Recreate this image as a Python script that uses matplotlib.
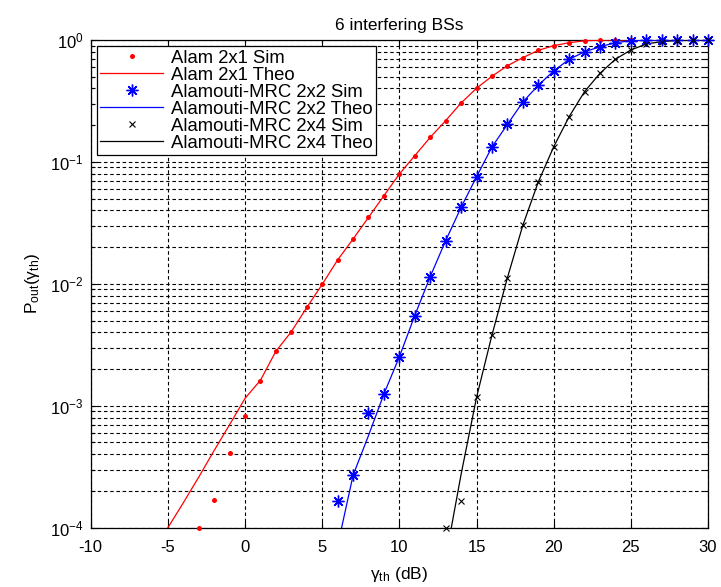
import matplotlib
matplotlib.use("Agg")
import matplotlib.pyplot as plt
from matplotlib.ticker import LogLocator, NullFormatter, NullLocator

plt.rcParams['font.family'] = ['Liberation Sans', 'DejaVu Sans']
plt.rcParams['mathtext.fontset'] = 'custom'
plt.rcParams['mathtext.rm'] = 'Liberation Sans'
plt.rcParams['mathtext.it'] = 'Liberation Sans:italic'
plt.rcParams['mathtext.default'] = 'regular'
plt.rcParams['axes.unicode_minus'] = False

title = "6 interfering BSs"

# Alamouti 2x1
x_sim_21 = [-3, -2, -1, 0, 1, 2, 3, 4, 5, 6, 7, 8, 9, 10, 11, 12, 13, 14, 15, 16, 17, 18, 19, 20,
            21, 22, 23, 24, 25, 26, 27, 28, 29, 30]
p_sim_21 = [1.0e-4, 1.68e-4, 4.07e-4, 8.2e-4, 1.6e-3, 2.83e-3, 4.05e-3, 6.4e-3, 9.9e-3, 1.57e-2,
            0.0233, 0.0351, 0.0528, 0.0796, 0.1125, 0.159, 0.218, 0.304, 0.402, 0.504, 0.615, 0.716,
            0.822, 0.898, 0.95, 0.985, 0.997, 1.0, 1.0, 1.0, 1.0, 1.0, 1.0, 1.0]
x_theo_21 = [-5, -4, -3, -2, -1, 0, 1, 2, 3, 4, 5, 6, 7, 8, 9, 10, 11, 12, 13, 14, 15, 16, 17, 18,
             19, 20, 21, 22, 23, 24, 25, 26, 27, 28, 29, 30]
p_theo_21 = [1.0e-4, 1.6e-4, 2.6e-4, 4.3e-4, 7.0e-4, 1.15e-3, 1.62e-3, 2.8e-3, 4.05e-3, 6.4e-3,
             9.9e-3, 1.57e-2, 0.0233, 0.0351, 0.0528, 0.0796, 0.1125, 0.159, 0.218, 0.304, 0.402,
             0.504, 0.615, 0.716, 0.822, 0.898, 0.95, 0.985, 0.997, 1.0, 1.0, 1.0, 1.0, 1.0, 1.0, 1.0]

# Alamouti-MRC 2x2
x_sim_22 = [6, 7, 8, 9, 10, 11, 12, 13, 14, 15, 16, 17, 18, 19, 20, 21, 22, 23, 24, 25, 26, 27,
            28, 29, 30]
p_sim_22 = [1.66e-4, 2.69e-4, 8.8e-4, 1.25e-3, 2.52e-3, 5.5e-3, 0.01146, 0.0226, 0.0424, 0.0755,
            0.1325, 0.203, 0.31, 0.425, 0.557, 0.694, 0.80, 0.88, 0.95, 0.985, 0.995, 1.0, 1.0,
            1.0, 1.0]
x_theo_22 = [6, 7, 8, 9, 10, 11, 12, 13, 14, 15, 16, 17, 18, 19, 20, 21, 22, 23, 24, 25, 26, 27,
             28, 29, 30]
p_theo_22 = [7.1e-5, 2.69e-4, 5.7e-4, 1.25e-3, 2.52e-3, 5.5e-3, 0.01146, 0.0226, 0.0424, 0.0755,
             0.1325, 0.203, 0.31, 0.425, 0.557, 0.694, 0.80, 0.88, 0.95, 0.985, 0.995, 1.0, 1.0,
             1.0, 1.0]

# Alamouti-MRC 2x4
x_sim_24 = [13, 14, 15, 16, 17, 18, 19, 20, 21, 22, 23, 24, 25, 26, 27, 28, 29, 30]
p_sim_24 = [1.0e-4, 1.65e-4, 1.17e-3, 3.8e-3, 0.0112, 0.0302, 0.0684, 0.133, 0.235, 0.377, 0.533,
            0.695, 0.828, 0.927, 0.97, 0.99, 1.0, 1.0]
x_theo_24 = [13, 14, 15, 16, 17, 18, 19, 20, 21, 22, 23, 24, 25, 26, 27, 28, 29, 30]
p_theo_24 = [5.6e-5, 2.74e-4, 1.17e-3, 3.8e-3, 0.0112, 0.0302, 0.0684, 0.133, 0.235, 0.377, 0.533,
             0.695, 0.828, 0.927, 0.97, 0.99, 1.0, 1.0]

labels = ["Alam 2x1 Sim", "Alam 2x1 Theo", "Alamouti-MRC 2x2 Sim", "Alamouti-MRC 2x2 Theo",
          "Alamouti-MRC 2x4 Sim", "Alamouti-MRC 2x4 Theo"]
x_ticks = [-10, -5, 0, 5, 10, 15, 20, 25, 30]

fig = plt.figure(figsize=(7.21, 5.87), dpi=100)
ax = fig.add_axes([0.1258, 0.101, 0.982 - 0.1258, 0.9319 - 0.101])

ax.plot(x_sim_21, p_sim_21, linestyle='none', marker='o', markersize=3.6, color='red',
        markeredgewidth=0, label=labels[0], clip_on=False, zorder=4)
ax.plot(x_theo_21, p_theo_21, '-', color='red', linewidth=0.9, label=labels[1], zorder=3)
ax.plot(x_sim_22, p_sim_22, linestyle='none', marker=(8, 2, 0), markersize=8.5, color='blue',
        markeredgewidth=1.0, label=labels[2], clip_on=False, zorder=4)
ax.plot(x_theo_22, p_theo_22, '-', color='blue', linewidth=0.9, label=labels[3], zorder=3)
ax.plot(x_sim_24, p_sim_24, linestyle='none', marker='x', markersize=5, color='black',
        markeredgewidth=0.8, label=labels[4], clip_on=False, zorder=4)
ax.plot(x_theo_24, p_theo_24, '-', color='black', linewidth=0.9, label=labels[5], zorder=3)

ax.set_yscale('log')
ax.set_xlim(-10, 30)
ax.set_ylim(1e-4, 1)
ax.set_xticks(x_ticks)
ax.xaxis.set_minor_locator(NullLocator())
ax.yaxis.set_major_locator(LogLocator(base=10, numticks=10))
ax.yaxis.set_minor_locator(LogLocator(base=10, subs=range(2, 10), numticks=20))
ax.yaxis.set_minor_formatter(NullFormatter())

dash = (0, (3.2, 2.4))
ax.grid(True, which='major', axis='both', color='black', linestyle=dash, linewidth=0.8)
ax.grid(True, which='minor', axis='y', color='black', linestyle=dash, linewidth=0.8)
ax.set_axisbelow(True)

ax.tick_params(which='both', direction='in', top=True, right=True, labelsize=12, width=0.8)
ax.tick_params(which='major', length=5)
ax.tick_params(axis='x', which='major', pad=9)
ax.tick_params(axis='y', which='major', pad=5)
ax.tick_params(which='minor', length=3)
for s in ax.spines.values():
    s.set_linewidth(0.9)
    s.set_color('black')

ax.set_title(title, fontsize=12.5, pad=7)
ax.set_xlabel(r'$\gamma_{th}$ (dB)', fontsize=12.5, labelpad=7)
ax.set_ylabel(r'P$_{out}$($\gamma_{th}$)', fontsize=12.5, labelpad=6)

leg = ax.legend(loc='upper left', fontsize=13.3, frameon=True, fancybox=False,
                edgecolor='black', framealpha=1, borderpad=0.18, labelspacing=0.0,
                handlelength=3.4, handletextpad=0.4, borderaxespad=0.35, numpoints=1)
leg.get_frame().set_linewidth(0.9)

fig.savefig('out.png', dpi=100)
